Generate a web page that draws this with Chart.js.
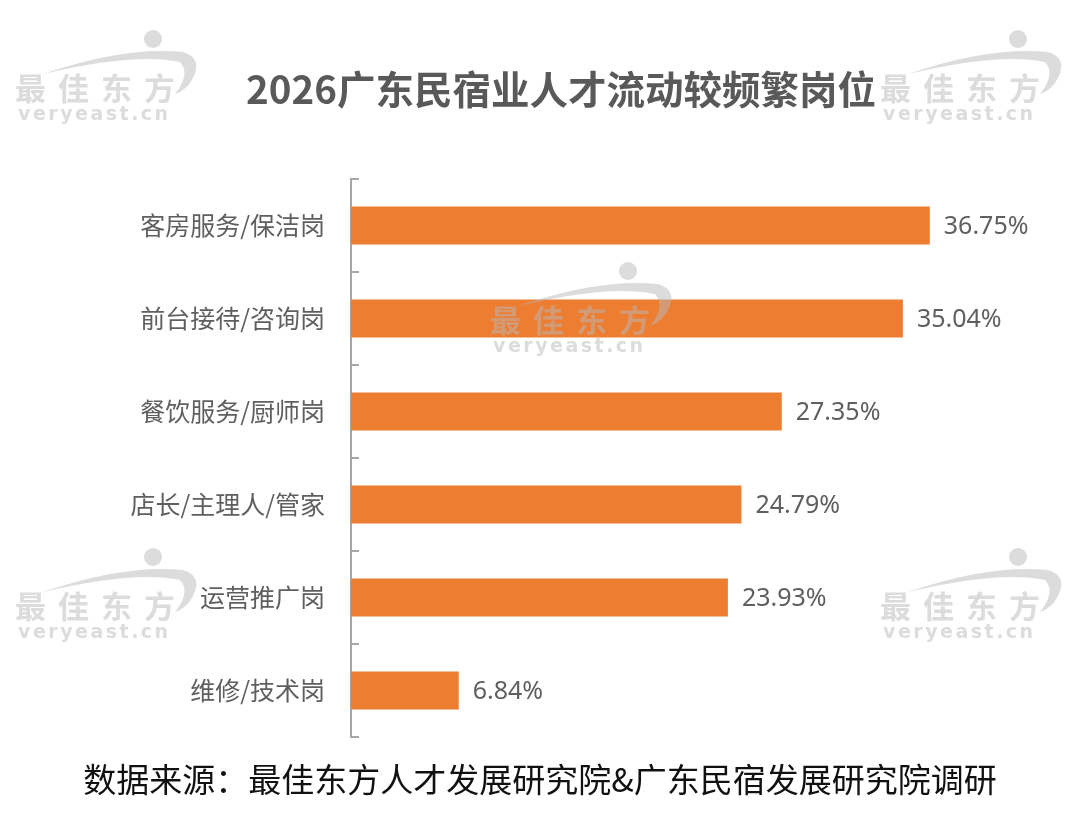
<!DOCTYPE html>
<html>
<head>
<meta charset="utf-8">
<script src="https://cdn.jsdelivr.net/npm/chart.js@4.4.1/dist/chart.umd.min.js"></script>
<style>
  html, body { margin: 0; padding: 0; background: #fff; }
  canvas { display: block; }
</style>
</head>
<body>
<canvas id="jobChart" width="1080" height="815"></canvas>
<script>
// 岗位与占比
const categories = ['客房服务/保洁岗', '前台接待/咨询岗', '餐饮服务/厨师岗', '店长/主理人/管家', '运营推广岗', '维修/技术岗'];
const shares = [36.75, 35.04, 27.35, 24.79, 23.93, 6.84];

const titleText = '2026广东民宿业人才流动较频繁岗位';
const sourceText = '数据来源：最佳东方人才发展研究院&广东民宿发展研究院调研';

const CJK = '"Noto Sans CJK SC", "Noto Sans", sans-serif';
const AXIS_GRAY = '#a6a6a6';

// 标题和来源
const textPlugin = {
    id: 'texts',
    afterDraw(chart) {
        const ctx = chart.ctx;
        ctx.save();
        ctx.textBaseline = 'middle';
        ctx.textAlign = 'center';
        ctx.fillStyle = '#595959';
        ctx.font = 'bold 38.5px ' + CJK;
        ctx.fillText(titleText, 561, 89);
        ctx.fillStyle = '#111';
        ctx.font = '33px ' + CJK;
        ctx.fillText(sourceText, 540, 779);
        ctx.restore();
    }
};

// 轴内侧小刻度
const tickPlugin = {
    id: 'innerTicks',
    afterDraw(chart) {
        const { ctx, chartArea } = chart;
        const n = categories.length;
        const step = (chartArea.bottom - chartArea.top) / n;
        ctx.save();
        ctx.strokeStyle = AXIS_GRAY;
        ctx.lineWidth = 2;
        for (let i = 0; i <= n; i++) {
            const y = Math.round(chartArea.top + i * step);
            ctx.beginPath();
            ctx.moveTo(chartArea.left, y);
            ctx.lineTo(chartArea.left + 8, y);
            ctx.stroke();
        }
        ctx.restore();
    }
};

// 数值标签
const valuePlugin = {
    id: 'values',
    afterDatasetsDraw(chart) {
        const ctx = chart.ctx;
        const meta = chart.getDatasetMeta(0);
        ctx.save();
        ctx.fillStyle = '#5f5f5f';
        ctx.font = '25px "Noto Sans", sans-serif';
        ctx.textAlign = 'left';
        ctx.textBaseline = 'middle';
        meta.data.forEach((bar, i) => {
            ctx.fillText(shares[i].toFixed(2) + '%', bar.x + 14, bar.y + 1);
        });
        ctx.restore();
    }
};

// 水印
function drawMark(ctx, x, y) {
    ctx.save();
    ctx.fillStyle = 'rgba(185,185,185,0.5)';
    // 小球
    ctx.beginPath();
    ctx.arc(x + 138, y - 49, 9, 0, Math.PI * 2);
    ctx.fill();
    // 弧线
    ctx.beginPath();
    ctx.moveTo(x + 28, y - 14);
    ctx.quadraticCurveTo(x + 110, y - 42, x + 168, y - 36);
    ctx.quadraticCurveTo(x + 188, y - 30, x + 178, y - 10);
    ctx.quadraticCurveTo(x + 172, y + 2, x + 160, y + 6);
    ctx.quadraticCurveTo(x + 176, y - 14, x + 165, y - 26);
    ctx.quadraticCurveTo(x + 120, y - 36, x + 28, y - 14);
    ctx.fill();
    // 文字
    ctx.textBaseline = 'middle';
    ctx.textAlign = 'left';
    ctx.font = 'bold 31px ' + CJK;
    const chars = '最佳东方';
    for (let i = 0; i < chars.length; i++) {
        ctx.fillText(chars[i], x + i * 43, y);
    }
    ctx.font = 'bold 19px "DejaVu Sans", sans-serif';
    const en = 'veryeast.cn';
    let cx = x + 3;
    for (const c of en) {
        ctx.fillText(c, cx, y + 27);
        cx += ctx.measureText(c).width + 2.5;
    }
    ctx.restore();
}

const markPlugin = {
    id: 'watermark',
    afterDraw(chart) {
        const ctx = chart.ctx;
        drawMark(ctx, 15, 88);
        drawMark(ctx, 880, 88);
        drawMark(ctx, 490, 320);
        drawMark(ctx, 15, 606);
        drawMark(ctx, 880, 606);
    }
};

new Chart(document.getElementById('jobChart').getContext('2d'), {
    type: 'bar',
    data: {
        labels: categories,
        datasets: [{
            data: shares,
            backgroundColor: '#ED7D31',
            borderWidth: 0,
            categoryPercentage: 1,
            barPercentage: 0.41
        }]
    },
    options: {
        indexAxis: 'y',
        responsive: false,
        animation: false,
        devicePixelRatio: 1,
        layout: { padding: { top: 179, bottom: 78, right: 99, left: 0 } },
        plugins: {
            legend: { display: false },
            tooltip: { enabled: false },
            title: { display: false }
        },
        scales: {
            x: { display: false, min: 0, max: 40 },
            y: {
                grid: { display: false, drawTicks: false },
                border: { display: true, color: AXIS_GRAY, width: 2 },
                ticks: {
                    color: '#5f5f5f',
                    padding: 26,
                    font: { size: 25, family: CJK }
                },
                afterFit(scale) { scale.width = 351; }
            }
        }
    },
    plugins: [tickPlugin, valuePlugin, textPlugin, markPlugin]
});
</script>
</body>
</html>
